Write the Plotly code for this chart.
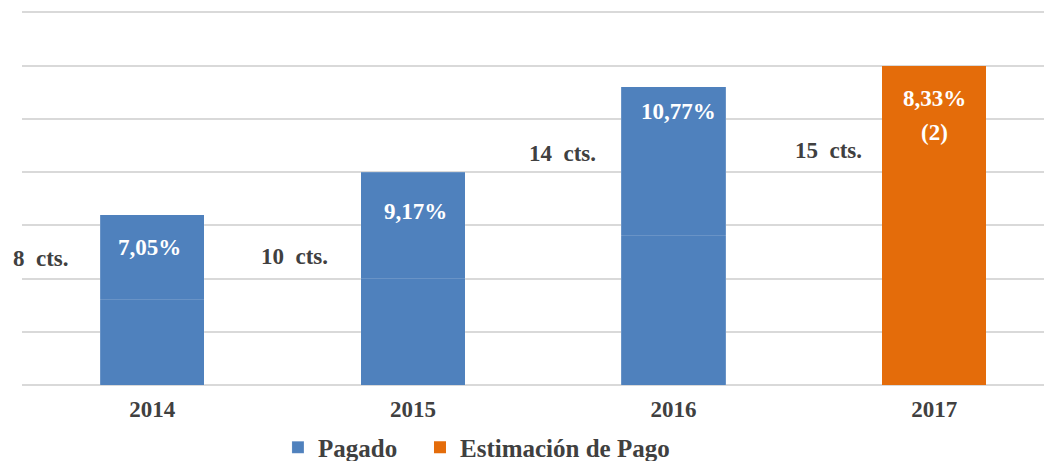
import plotly.graph_objects as go

years = ["2014", "2015", "2016", "2017"]
paid_first_half = [1.6, 2.0, 2.8, None]
paid_second_half = [1.6, 2.0, 2.8, None]
estimate = [None, None, None, 6.0]
pct_labels = ["7,05%", "9,17%", "10,77%", "8,33%"]
note_2017 = "(2)"
cts_labels = ["8  cts.", "10  cts.", "14  cts.", "15  cts."]

# label positions (layout only)
pct_pos = [(-0.01, 2.58), (1.01, 3.26), (2.02, 5.13), (3.0, 5.38)]
note_pos = (3.0, 4.74)
cts_pos = [(-0.427, 2.38), (0.544, 2.42), (1.572, 4.34), (2.593, 4.40)]

BLUE = "#4f81bd"
ORANGE = "#e46c0a"
TXT = "#404040"
FONT = "Liberation Serif"
FS = 23

fig = go.Figure()
line_style = dict(width=0.6, color="rgba(255,255,255,0.25)")
fig.add_bar(x=years, y=paid_first_half, name="Pagado", marker=dict(color=BLUE, line=line_style),
            width=0.4, legendgroup="p", legend="legend")
fig.add_bar(x=years, y=paid_second_half, name="Pagado", showlegend=False, marker=dict(color=BLUE, line=line_style),
            width=0.4, legendgroup="p", legend="legend")
fig.add_bar(x=years, y=estimate, name="Estimación de Pago", marker=dict(color=ORANGE, line=dict(width=0)),
            width=0.4, legend="legend2")

ann = []
for (x, y), t in zip(pct_pos, pct_labels):
    ann.append(dict(x=x, y=y, xref="x", yref="y", text=t, showarrow=False,
                    font=dict(family=FONT, size=FS, color="white", weight="bold")))
ann.append(dict(x=note_pos[0], y=note_pos[1], xref="x", yref="y", text=note_2017, showarrow=False,
                font=dict(family=FONT, size=FS, color="white", weight="bold")))
for (x, y), t in zip(cts_pos, cts_labels):
    ann.append(dict(x=x, y=y, xref="x", yref="y", text=t.replace("  ", "&nbsp; "), showarrow=False,
                    font=dict(family=FONT, size=FS, color=TXT, weight="bold")))

legend_style = dict(orientation="h", yanchor="middle", y=-0.166, xanchor="left",
                    font=dict(family=FONT, size=25, color=TXT, weight="bold"),
                    itemwidth=30, bgcolor="rgba(0,0,0,0)")

fig.update_layout(
    width=1044, height=453,
    margin=dict(l=14, r=0, t=0, b=76, autoexpand=False),
    barmode="stack",
    plot_bgcolor="white", paper_bgcolor="white",
    font=dict(family=FONT, color=TXT),
    annotations=ann,
    legend=dict(legend_style, x=0.2485),
    legend2=dict(legend_style, x=0.3864),
    xaxis=dict(type="category", range=[-0.5, 3.452], showgrid=False, showline=False, ticks="",
               automargin=False, ticklabelstandoff=8,
               tickfont=dict(family=FONT, size=FS, color=TXT, weight="bold")),
    yaxis=dict(range=[0, 7.08], dtick=1, showticklabels=False, showgrid=True, automargin=False,
               gridcolor="#d9d9d9", gridwidth=1.5, zeroline=True, zerolinecolor="#d9d9d9",
               zerolinewidth=1.5, showline=False),
)

fig.write_html("out.html")
